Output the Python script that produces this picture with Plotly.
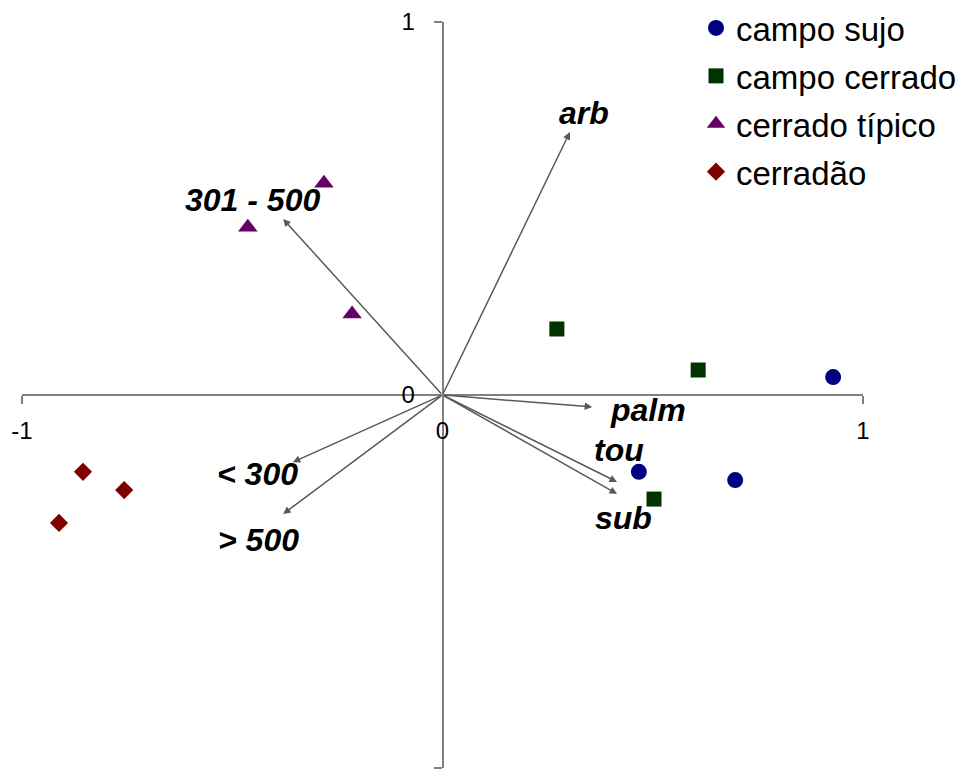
import plotly.graph_objects as go

# ---- data ----
groups = ["campo sujo", "campo cerrado", "cerrado típico", "cerradão"]
campo_sujo_x = [0.929, 0.467, 0.696]
campo_sujo_y = [0.048, -0.206, -0.228]
campo_cerrado_x = [0.272, 0.608, 0.503]
campo_cerrado_y = [0.177, 0.067, -0.279]
cerrado_tipico_x = [-0.282, -0.463, -0.215]
cerrado_tipico_y = [0.568, 0.450, 0.217]
cerradao_x = [-0.855, -0.757, -0.912]
cerradao_y = [-0.206, -0.255, -0.343]

vector_names = ["arb", "301 - 500", "palm", "tou", "sub", "< 300", "> 500"]
vector_x = [0.303, -0.379, 0.356, 0.415, 0.415, -0.356, -0.379]
vector_y = [0.705, 0.472, -0.032, -0.233, -0.265, -0.180, -0.319]

tick_vals = [-1, 0, 1]
tick_text = ["-1", "0", "1"]

# ---- styles ----
label_shift = {  # pixel offsets of labels from arrow tips
    "arb": (14, 19), "301 - 500": (-31, 19), "palm": (56, -3),
    "tou": (2, 32), "sub": (6, -24), "< 300": (-35, -12), "> 500": (-25, -26),
}
FONT = "Liberation Sans, Arial, sans-serif"

fig = go.Figure()
series = [
    (groups[0], campo_sujo_x, campo_sujo_y, "circle", 16, "#000080"),
    (groups[1], campo_cerrado_x, campo_cerrado_y, "square", 15, "#003300"),
    (groups[2], cerrado_tipico_x, cerrado_tipico_y, "triangle-up", 17, "#660066"),
    (groups[3], cerradao_x, cerradao_y, "diamond", 14, "#800000"),
]
for name, xs, ys, sym, sz, col in series:
    fig.add_trace(go.Scatter(
        x=xs, y=ys, mode="markers", name=name, legendgroup=name,
        marker=dict(symbol=sym, size=sz, color=col, line=dict(width=0)),
    ))

annotations = []
for name, vx, vy in zip(vector_names, vector_x, vector_y):
    annotations.append(dict(
        x=vx, y=vy, ax=0, ay=0, xref="x", yref="y", axref="x", ayref="y",
        text="", showarrow=True, arrowhead=2, arrowsize=1, arrowwidth=1.5,
        arrowcolor="#595959", standoff=0,
    ))
    dx, dy = label_shift[name]
    annotations.append(dict(
        x=vx, y=vy, xref="x", yref="y",
        text="<b><i>" + name.replace("<", "&lt;").replace(">", "&gt;") + "</i></b>",
        showarrow=False, xshift=dx, yshift=dy,
        font=dict(family=FONT, size=32, color="black"),
    ))

axis_common = dict(
    range=[-1, 1], tickvals=tick_vals, ticktext=tick_text,
    showgrid=False, zeroline=False, showline=True, linecolor="#808080",
    linewidth=1.5, ticks="outside", ticklen=8, tickwidth=1.5, tickcolor="#808080",
    tickfont=dict(family=FONT, size=24, color="black"), automargin=False,
    anchor="free", position=0.5, fixedrange=True,
)
fig.update_layout(
    width=962, height=778,
    margin=dict(l=22, r=99, t=22, b=10, autoexpand=False),
    paper_bgcolor="white", plot_bgcolor="white",
    xaxis=dict(**axis_common, ticklabelstandoff=6),
    yaxis=dict(**axis_common, ticklabelstandoff=14),
    annotations=annotations,
    showlegend=True,
    legend=dict(
        xref="container", yref="container", x=696 / 962, y=1,
        xanchor="left", yanchor="top", bgcolor="rgba(0,0,0,0)",
        font=dict(family=FONT, size=33, color="black"),
        tracegroupgap=2, itemsizing="trace",
    ),
)
fig.write_html("out.html")
